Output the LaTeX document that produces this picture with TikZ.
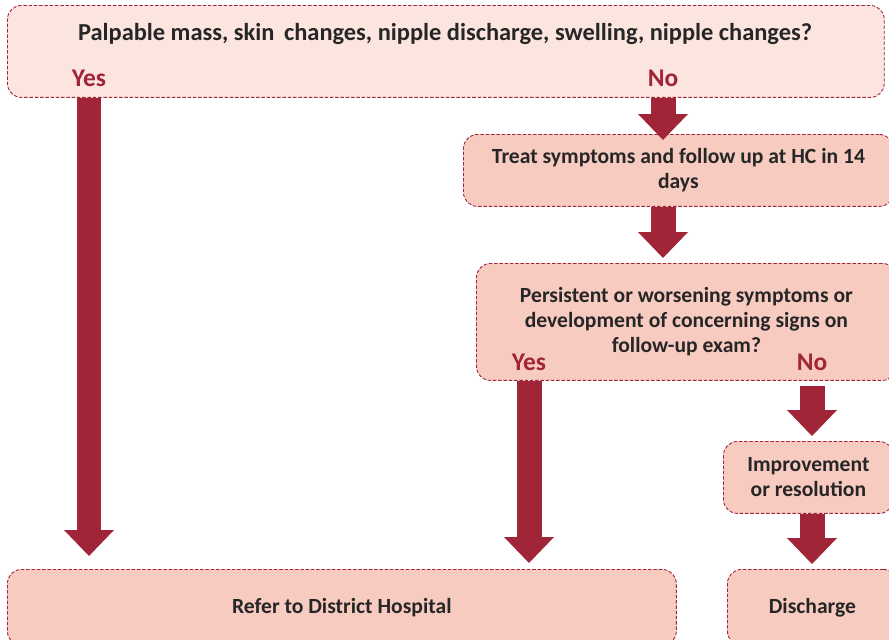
\documentclass[tikz,border=0pt]{standalone}
\usepackage{fontspec}
\setmainfont{Carlito}
\usepackage{xcolor}
\usetikzlibrary{arrows.meta, positioning}
\definecolor{figred}{RGB}{161,37,56}
\definecolor{figpink}{RGB}{248,203,193}
\definecolor{figpale}{RGB}{252,229,223}
\definecolor{figtext}{RGB}{38,38,38}
\tikzstyle{flowbox} = [rectangle, rounded corners=8pt, anchor=north west,
fill=figpink, draw=figred, dash pattern=on 2pt off 1pt, line width=0.5pt,
align=center, inner sep=0pt, text=figtext,
font=\bfseries\fontsize{12.3}{14.3}\selectfont]
\tikzstyle{answer} = [text=figred, font=\bfseries\fontsize{14.5}{16}\selectfont]
\tikzstyle{arrow} = [-{Triangle[width=1cm, length=0.52cm, line width=0pt]},
line width=0.5cm, draw=figred]

\begin{document}
\begin{tikzpicture}[x=0.02cm, y=-0.02cm]
    \useasboundingbox (0,0) rectangle (889,639);
    % question box at the top, the answers sit in its lower edge
    \node (q1) [flowbox, fill=figpale, minimum width=17.54cm, minimum height=1.84cm] at (7,5) {};
    \node (q1txt) [font=\bfseries\fontsize{13.9}{16}\selectfont, text=figtext] at (445,34)
    {Palpable mass, skin\, changes, nipple discharge, swelling, nipple changes?};
    \node (yes1) [answer] at (89,78) {Yes};
    \node (no1) [answer] at (663,78) {No};

    \node (treat) [flowbox, minimum width=8.6cm, minimum height=1.44cm] at (463,134)
    {Treat symptoms and follow up at HC in 14\\ days};
    \node (q2) [flowbox, minimum width=8.4cm, minimum height=2.34cm] at (476,263)
    {Persistent or worsening symptoms or\\ development of concerning signs on\\ follow-up exam?};
    \node (yes2) [answer] at (529,362) {Yes};
    \node (no2) [answer] at (812,362) {No};

    \node (improve) [flowbox, minimum width=3.4cm, minimum height=1.44cm] at (723,441)
    {Improvement\\ or resolution};
    \node (refer) [flowbox, minimum width=13.38cm, minimum height=1.52cm] at (7,569)
    {Refer to District Hospital};
    \node (discharge) [flowbox, minimum width=3.4cm, minimum height=1.52cm] at (727,569)
    {Discharge};

    \draw[arrow, shorten >=0.26cm] (q1.south -| yes1) -- (refer.north -| yes1);
    \draw[arrow, shorten >=-0.12cm] (q1.south -| no1) -- (treat.north -| no1);
    \draw[arrow, shorten >=0.1cm] (treat.south -| no1) -- (q2.north -| no1);
    \draw[arrow, shorten >=0.12cm] (q2.south -| yes2) -- (refer.north -| yes2);
    \draw[arrow, shorten <=0.1cm, shorten >=0.1cm] (q2.south -| no2) -- (improve.north -| no2);
    \draw[arrow, shorten >=0.1cm] (improve.south -| no2) -- (discharge.north -| no2);
\end{tikzpicture}
\end{document}
